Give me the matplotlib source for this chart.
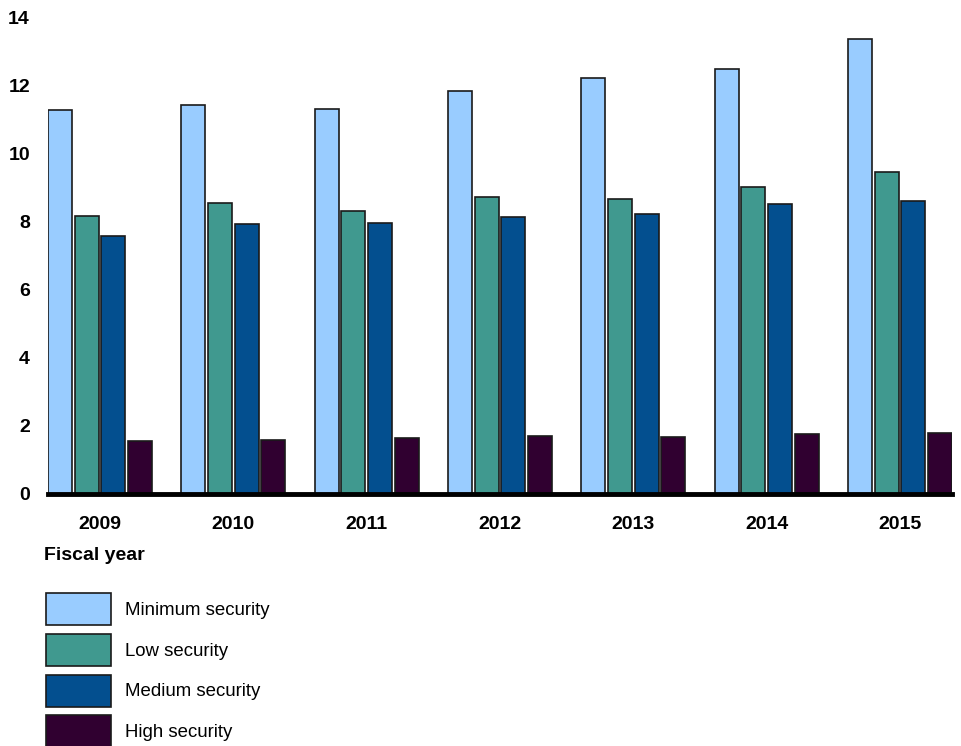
import matplotlib
matplotlib.use("Agg")
import matplotlib.pyplot as plt
from matplotlib.patches import Rectangle
import numpy as np

plt.rcParams['font.family'] = ['Liberation Sans', 'DejaVu Sans']

years = ['2009', '2010', '2011', '2012', '2013', '2014', '2015']
series_names = ['Minimum security', 'Low security', 'Medium security', 'High security']
minimum = [11.27, 11.42, 11.31, 11.84, 12.20, 12.47, 13.35]
low = [8.16, 8.54, 8.30, 8.71, 8.66, 9.02, 9.45]
medium = [7.57, 7.92, 7.95, 8.12, 8.22, 8.52, 8.60]
high = [1.56, 1.58, 1.63, 1.71, 1.66, 1.76, 1.78]
colors = ['#99CCFF', '#40998F', '#034F8F', '#300030']
yticks = [0, 2, 4, 6, 8, 10, 12, 14]

W, H = 962, 746
fig = plt.figure(figsize=(W / 100, H / 100), dpi=100)
ax = fig.add_axes([48 / W, 1 - 494 / H, (952 - 48) / W, (494 - 17) / H])

x = np.arange(len(years))
bw = 24 / 133.3
step = 26.67 / 133.3
data = [minimum, low, medium, high]
for i, (vals, c, name) in enumerate(zip(data, colors, series_names)):
    ax.bar(x + (i - 1.5) * step, vals, width=bw, color=c, edgecolor='#1a1a1a',
           linewidth=1.2, label=name, zorder=2)

left = x[0] - 1.5 * step - bw / 2
right = x[-1] + 1.5 * step + bw / 2
ax.set_xlim(left, right)
ax.set_ylim(0, 14)
ax.set_xticks(x)
ax.set_xticklabels(years, fontsize=14, fontweight='bold')
ax.set_yticks(yticks)
ax.set_yticklabels([str(v) for v in yticks], fontsize=14, fontweight='bold')
for s in ['top', 'right', 'left']:
    ax.spines[s].set_visible(False)
ax.spines['bottom'].set_linewidth(3.5)
ax.spines['bottom'].set_color('black')
ax.spines['bottom'].set_zorder(3)
ax.tick_params(axis='both', length=0)
ax.tick_params(axis='x', pad=16)
ax.tick_params(axis='y', pad=13)

fig.text(44 / W, 1 - 556 / H, 'Fiscal year', fontsize=14, fontweight='bold',
         ha='left', va='center')

# legend drawn as figure patches + labels
row_tops = [593, 633.5, 674.5, 715]
for name, c, top in zip(series_names, colors, row_tops):
    fig.patches.append(Rectangle((45.5 / W, 1 - (top + 32) / H), 65 / W, 32 / H,
                                 transform=fig.transFigure, facecolor=c,
                                 edgecolor='#1a1a1a', linewidth=1.2))
    fig.text(125 / W, 1 - (top + 17.5) / H, name, fontsize=13.4, ha='left', va='center')

fig.savefig('out.png', dpi=100)
